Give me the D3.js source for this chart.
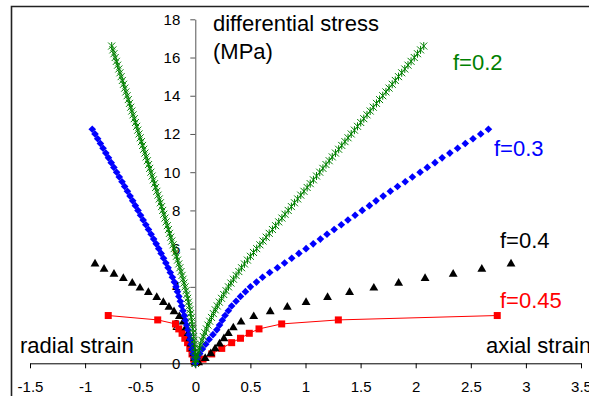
<!DOCTYPE html>
<html>
<head>
<meta charset="utf-8">
<script src="https://cdn.jsdelivr.net/npm/d3@7"></script>
<style>
  html, body { margin: 0; padding: 0; background: #fff; }
  svg { display: block; font-family: "Liberation Sans", Arial, sans-serif; }
</style>
</head>
<body>
<svg id="chart" width="589" height="396"></svg>
<script>
// ---------- data ----------
const xTicks = [-1.5, -1, -0.5, 0, 0.5, 1, 1.5, 2, 2.5, 3, 3.5];
const yTicks = [0, 2, 4, 6, 8, 10, 12, 14, 16, 18];

// f = 0.2 (green stars)
const f02Stress = [0,0.2,0.4,0.6,0.8,1.0,1.2,1.4,1.6,1.8,2.0,2.2,2.4,2.6,2.8,3.0,3.2,3.4,3.6,3.8,4.0,4.2,4.4,4.6,4.8,5.0,5.2,5.4,5.6,5.8,6.0,6.2,6.4,6.6,6.8,7.0,7.2,7.4,7.6,7.8,8.0,8.2,8.4,8.6,8.8,9.0,9.2,9.4,9.6,9.8,10.0,10.2,10.4,10.6,10.8,11.0,11.2,11.4,11.6,11.8,12.0,12.2,12.4,12.6,12.8,13.0,13.2,13.4,13.6,13.8,14.0,14.2,14.4,14.6,14.8,15.0,15.2,15.4,15.6,15.8,16.0,16.2,16.4,16.6];
const f02Axial = [0,0.008,0.017,0.027,0.038,0.049,0.061,0.073,0.087,0.101,0.115,0.131,0.147,0.164,0.181,0.199,0.218,0.238,0.258,0.279,0.301,0.323,0.346,0.370,0.395,0.420,0.446,0.473,0.500,0.528,0.557,0.586,0.614,0.643,0.671,0.700,0.729,0.757,0.786,0.814,0.843,0.872,0.900,0.929,0.957,0.986,1.015,1.043,1.072,1.100,1.129,1.158,1.186,1.215,1.243,1.272,1.301,1.329,1.358,1.386,1.415,1.444,1.472,1.501,1.529,1.558,1.587,1.615,1.644,1.672,1.701,1.730,1.758,1.787,1.815,1.844,1.873,1.901,1.930,1.958,1.987,2.016,2.044,2.073];
const f02Radial = [0,-0.001,-0.002,-0.004,-0.006,-0.009,-0.012,-0.015,-0.019,-0.023,-0.027,-0.032,-0.037,-0.043,-0.049,-0.055,-0.062,-0.069,-0.077,-0.084,-0.093,-0.102,-0.111,-0.120,-0.130,-0.140,-0.150,-0.161,-0.171,-0.182,-0.192,-0.202,-0.213,-0.223,-0.234,-0.244,-0.254,-0.265,-0.275,-0.286,-0.296,-0.306,-0.317,-0.327,-0.338,-0.349,-0.360,-0.370,-0.381,-0.392,-0.403,-0.414,-0.424,-0.435,-0.446,-0.457,-0.468,-0.478,-0.489,-0.500,-0.511,-0.522,-0.532,-0.543,-0.554,-0.565,-0.576,-0.586,-0.597,-0.608,-0.619,-0.630,-0.640,-0.651,-0.662,-0.673,-0.684,-0.694,-0.705,-0.716,-0.727,-0.738,-0.748,-0.759];

// f = 0.3 (blue diamonds)
const f03Stress = [0,0.25,0.5,0.75,1.0,1.25,1.5,1.75,2.0,2.25,2.5,2.75,3.0,3.25,3.5,3.75,4.0,4.25,4.5,4.75,5.0,5.25,5.5,5.75,6.0,6.25,6.5,6.75,7.0,7.25,7.5,7.75,8.0,8.25,8.5,8.75,9.0,9.25,9.5,9.75,10.0,10.25,10.5,10.75,11.0,11.25,11.5,11.75,12.0,12.25];
const f03Axial = [0,0.02,0.04,0.065,0.095,0.125,0.16,0.195,0.22,0.245,0.27,0.30,0.33,0.37,0.41,0.455,0.50,0.555,0.61,0.675,0.745,0.81,0.875,0.94,1.005,1.07,1.135,1.195,1.26,1.325,1.385,1.45,1.515,1.58,1.64,1.705,1.77,1.835,1.905,1.97,2.04,2.105,2.175,2.24,2.31,2.38,2.45,2.52,2.59,2.66];
const f03Radial = [0,-0.01,-0.02,-0.03,-0.038,-0.047,-0.057,-0.067,-0.078,-0.089,-0.10,-0.112,-0.124,-0.136,-0.149,-0.162,-0.175,-0.19,-0.208,-0.227,-0.247,-0.267,-0.288,-0.31,-0.332,-0.355,-0.378,-0.401,-0.425,-0.449,-0.473,-0.497,-0.52,-0.544,-0.568,-0.592,-0.616,-0.641,-0.665,-0.69,-0.714,-0.739,-0.763,-0.788,-0.812,-0.837,-0.861,-0.886,-0.91,-0.935];

// f = 0.4 (black triangles)
const f04Stress = [0.08,0.3,0.55,0.8,1.06,1.33,1.6,1.9,2.2,2.49,2.74,2.98,3.23,3.49,3.75,3.98,4.24,4.48,4.71,4.97,5.24];
const f04Axial = [0.03,0.09,0.14,0.18,0.22,0.26,0.30,0.345,0.415,0.53,0.68,0.835,1.005,1.20,1.40,1.62,1.845,2.085,2.34,2.60,2.865];
const f04Radial = [-0.002,-0.007,-0.015,-0.025,-0.037,-0.05,-0.065,-0.085,-0.109,-0.145,-0.193,-0.239,-0.29,-0.35,-0.426,-0.502,-0.572,-0.653,-0.738,-0.828,-0.91];

// f = 0.45 (red squares with line)
const f045Stress = [0.05,0.22,0.49,0.78,1.08,1.31,1.57,1.8,2.06,2.27,2.5];
const f045Axial = [0.01,0.07,0.149,0.24,0.33,0.41,0.49,0.578,0.784,1.298,2.74];
const f045Radial = [-0.003,-0.015,-0.03,-0.05,-0.07,-0.095,-0.12,-0.15,-0.18,-0.341,-0.79];

// ---------- chart ----------
const svg = d3.select("#chart");
const x = d3.scaleLinear().domain([-1.5, 3.5]).range([30, 581]);
const y = d3.scaleLinear().domain([0, 18]).range([363.3, 19.3]);

// outer frame (left and top edges visible)
svg.append("path")
  .attr("d", "M11.5,396V6.5H589")
  .attr("fill", "none").attr("stroke", "#222").attr("stroke-width", 1.6);

// axes
const yAxis = svg.append("g")
  .attr("transform", `translate(${x(0)},0)`)
  .call(d3.axisLeft(y).tickValues(yTicks).tickSize(5).tickSizeOuter(0).tickPadding(10).tickFormat(d3.format("d")));
yAxis.select(".domain").attr("stroke", "#555");
yAxis.selectAll(".tick line").attr("stroke", "#555");
yAxis.selectAll("text").attr("font-size", 15).attr("fill", "#000").attr("font-family", "Liberation Sans, Arial, sans-serif");

const xAxis = svg.append("g")
  .attr("transform", `translate(0,${y(0)})`)
  .call(d3.axisBottom(x).tickValues(xTicks).tickSize(5).tickSizeOuter(0).tickPadding(13.5).tickFormat(d => String(d)));
xAxis.select(".domain").attr("stroke", "#000");
xAxis.selectAll(".tick line").attr("stroke", "#000");
xAxis.selectAll("text").attr("font-size", 15).attr("fill", "#000").attr("font-family", "Liberation Sans, Arial, sans-serif");

// helpers
function pts(stress, strain) { return stress.map((s, i) => ({ s, e: strain[i] })); }

// f=0.45 red
const redLeft = pts(f045Stress, f045Radial).reverse();
const redRight = pts(f045Stress, f045Axial);
const redAll = redLeft.concat(redRight);
svg.append("path")
  .datum(redAll)
  .attr("fill", "none").attr("stroke", "#ff0000").attr("stroke-width", 1)
  .attr("d", d3.line().x(d => x(d.e)).y(d => y(d.s)));
svg.append("g").selectAll("rect").data(redAll).join("rect")
  .attr("x", d => x(d.e) - 3.5).attr("y", d => y(d.s) - 3.5)
  .attr("width", 7).attr("height", 7).attr("fill", "#ff0000");

// f=0.4 black triangles
const blackAll = pts(f04Stress, f04Radial).concat(pts(f04Stress, f04Axial));
const tri = d3.symbol().type(d3.symbolTriangle).size(34);
svg.append("g").selectAll("path").data(blackAll).join("path")
  .attr("transform", d => `translate(${x(d.e)},${y(d.s) + 0.8})`)
  .attr("d", tri).attr("fill", "#000");

// f=0.3 blue diamonds
const blueAll = pts(f03Stress, f03Radial).concat(pts(f03Stress, f03Axial));
svg.append("g").selectAll("path").data(blueAll).join("path")
  .attr("transform", d => `translate(${x(d.e)},${y(d.s)})`)
  .attr("d", "M0,-3.8L3.8,0L0,3.8L-3.8,0Z").attr("fill", "#0000ff");

// f=0.2 green stars
const greenAll = pts(f02Stress, f02Radial).concat(pts(f02Stress, f02Axial));
svg.append("g").selectAll("path").data(greenAll).join("path")
  .attr("transform", d => `translate(${x(d.e)},${y(d.s)})`)
  .attr("d", "M-3.5,-3.5L3.5,3.5M-3.5,3.5L3.5,-3.5M0,-4L0,4")
  .attr("fill", "none").attr("stroke", "#008000").attr("stroke-width", 1);

// labels
const labels = [
  { t: "differential stress", x: 213, y: 31, c: "#000" },
  { t: "(MPa)", x: 213, y: 59, c: "#000" },
  { t: "f=0.2", x: 453, y: 69.5, c: "#008000" },
  { t: "f=0.3", x: 494, y: 156, c: "#0000ff" },
  { t: "f=0.4", x: 500, y: 248, c: "#000" },
  { t: "f=0.45", x: 500, y: 308, c: "#ff0000" },
  { t: "radial strain", x: 20, y: 353, c: "#000" },
  { t: "axial strain", x: 486, y: 353, c: "#000" }
];
svg.append("g").selectAll("text").data(labels).join("text")
  .attr("x", d => d.x).attr("y", d => d.y)
  .attr("fill", d => d.c).attr("font-size", 22)
  .text(d => d.t);
</script>
</body>
</html>
